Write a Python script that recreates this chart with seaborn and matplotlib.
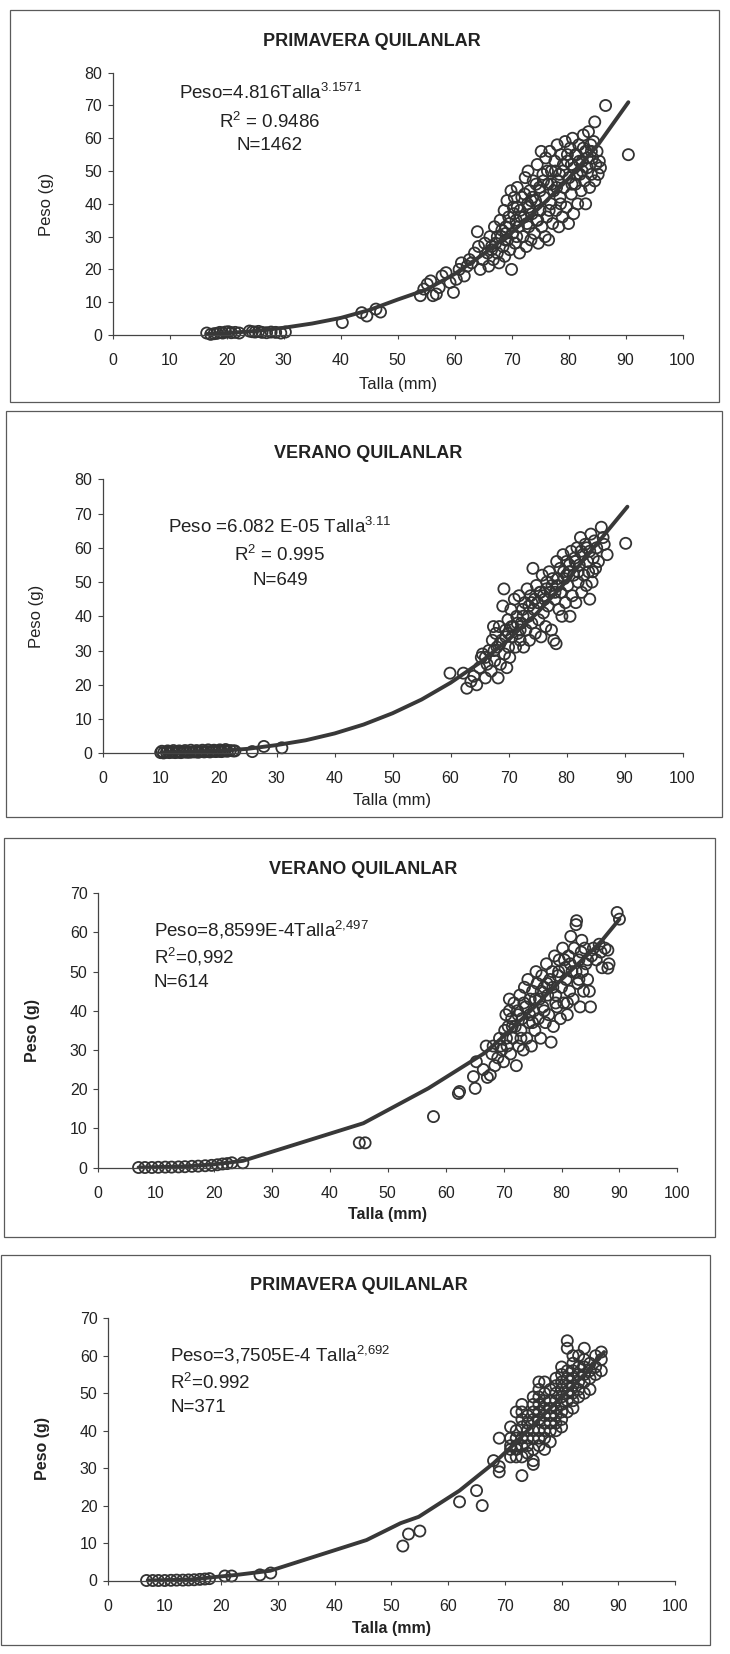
import matplotlib
matplotlib.use("Agg")
import matplotlib.pyplot as plt
import seaborn as sns
from matplotlib.patches import Rectangle

W, H = 730, 1654

# ---------------- panel 1: PRIMAVERA QUILANLAR (N=1462) ----------------
p1_talla = [16.5, 17.2, 17.8, 18.3, 18.8, 19.3, 19.8, 20.3, 20.8, 21.5, 22.2,
            24.0, 24.5, 25.0, 25.6, 26.2, 27.0, 27.8, 28.6, 29.5, 30.3,
            40.3, 43.7, 44.6, 46.2, 47.0,
            54.0, 54.6, 55.2, 55.8, 56.2, 56.8, 57.3, 57.8, 58.5, 59.2, 59.8, 60.3,
            60.8, 61.2, 61.7, 62.2, 62.6,
            63.0, 63.5, 64.0, 64.2, 64.5, 65.0, 65.3, 65.8, 66.0, 66.2, 66.5, 66.8,
            67.0, 67.2, 67.5, 67.8, 68.0, 68.2, 68.5, 68.7, 68.8, 69.0, 69.2, 69.3,
            69.5, 69.7, 69.9,
            70.0, 70.2, 70.3, 70.5, 70.6, 70.8, 71.0, 71.2, 71.4, 71.5, 71.8, 72.0,
            72.2, 72.4, 72.6, 72.8, 72.9, 73.0,
            73.2, 73.4, 73.6, 73.8, 74.0, 74.2, 74.4, 74.5, 74.7, 74.9, 75.0, 75.2,
            75.3, 75.5, 75.7, 75.9, 76.0, 76.2, 76.4, 76.5, 76.7, 76.9, 77.0,
            77.2, 77.4, 77.6, 77.8, 78.0, 78.1, 78.3, 78.5, 78.7, 78.9, 79.0, 79.2,
            79.4, 79.6, 79.8, 80.0, 80.1, 80.3, 80.5, 80.7, 80.9,
            81.0, 81.2, 81.4, 81.6, 81.8, 82.0, 82.2, 82.4, 82.6, 82.8, 83.0, 83.0,
            83.3, 83.5, 83.7, 83.9, 84.0,
            84.2, 84.4, 84.6, 84.8, 85.0, 85.2, 85.4, 85.6, 84.6, 86.5, 90.5,
            66.5, 67.5, 68.3, 69.0, 69.6, 70.4, 71.0, 71.6, 72.3, 73.0, 73.7, 74.3,
            75.0, 75.6, 76.3, 77.0, 77.7, 78.4, 79.1, 79.8, 80.5, 81.2, 81.9, 82.6,
            83.3, 84.0, 70.9, 72.7, 74.6, 76.6, 78.6, 80.6, 82.4, 68.9, 73.4, 77.9,
            81.5]
p1_peso = [0.6, 0.2, 0.4, 0.5, 0.8, 0.6, 0.9, 1.0, 0.7, 0.8, 0.6,
           1.2, 1.0, 0.9, 1.1, 0.8, 0.7, 0.9, 0.8, 0.6, 0.9,
           3.8, 6.8, 5.8, 7.9, 7.0,
           12.0, 14.0, 15.5, 16.5, 12.0, 12.5, 14.5, 18.0, 19.0, 16.0, 13.0, 17.0,
           20.0, 22.0, 18.0, 21.0, 23.0,
           22.0, 25.0, 31.5, 27.0, 20.0, 23.0, 28.0, 25.0, 21.0, 30.0, 26.0, 23.0,
           33.0, 28.0, 25.0, 22.0, 35.0, 30.0, 27.0, 38.0, 24.0, 33.0, 41.0, 29.0,
           36.0, 26.0, 44.0,
           20.0, 31.0, 39.0, 42.0, 28.0, 35.0, 45.0, 33.0, 25.0, 38.0, 42.0, 30.0,
           36.0, 48.0, 27.0, 40.0, 50.0, 33.0,
           44.0, 29.0, 37.0, 47.0, 31.0, 41.0, 35.0, 52.0, 28.0, 45.0, 38.0, 56.0,
           33.0, 49.0, 42.0, 30.0, 54.0, 36.0, 46.0, 29.0, 56.0, 40.0, 50.0,
           34.0, 44.0, 53.0, 38.0, 58.0, 47.0, 33.0, 42.0, 55.0, 36.0, 50.0, 45.0,
           59.0, 39.0, 53.0, 34.0, 48.0, 57.0, 43.0, 60.0, 37.0,
           51.0, 46.0, 55.0, 40.0, 58.0, 49.0, 44.0, 53.0, 61.0, 47.0, 40.0, 56.0,
           51.0, 62.0, 45.0, 58.0, 49.0,
           54.0, 59.0, 47.0, 52.0, 56.0, 49.0, 53.0, 51.0, 65.0, 70.0, 55.0,
           27.0, 30.0, 32.0, 31.0, 34.0, 37.0, 39.0, 36.0, 43.0, 39.0, 42.0, 46.0,
           44.0, 47.0, 50.0, 46.0, 50.0, 49.0, 52.0, 55.0, 52.0, 55.0, 53.0, 57.0,
           54.0, 56.0, 30.0, 34.0, 35.0, 38.0, 40.0, 46.0, 50.0, 29.0, 41.0, 45.0,
           49.0]
p1_curve_x = [16.5, 20, 25, 30, 35, 40, 45, 50, 55, 60, 65, 70, 75, 80, 85, 90.5]
p1_curve_y = [0.3, 0.6, 1.2, 2.2, 3.5, 5.2, 7.6, 10.8, 13.8, 18.6, 24.6, 31.2, 39.0, 47.7, 57.6, 71.0]

# ---------------- panel 2: VERANO QUILANLAR (N=649) ----------------
p2_talla = [10.0, 10.5, 11.0, 11.5, 12.0, 12.5, 13.0, 13.5, 14.0, 14.5, 15.0, 15.5,
            16.0, 16.5, 17.0, 17.5, 18.0, 18.5, 19.0, 19.5, 20.0, 20.5, 21.0, 21.5,
            22.0, 22.5,
            10.2, 11.2, 12.2, 13.2, 14.2, 15.2, 16.2, 17.2, 18.2, 19.2, 20.2, 21.2,
            22.8, 25.8, 27.8, 30.9,
            59.9, 62.2, 62.8, 63.5, 64.0, 64.5, 65.0, 65.3, 65.5, 66.0, 66.3, 66.6,
            67.0, 67.2, 67.4, 67.6, 67.8, 68.0, 68.2, 68.4, 68.6, 68.8, 69.0, 69.2,
            69.3, 69.5, 69.7, 69.9,
            70.0, 70.2, 70.4, 70.6, 70.8, 71.0, 71.2, 71.4, 71.6, 71.8, 72.0, 72.2,
            72.4, 72.6, 72.8, 73.0, 73.2, 73.4, 73.6, 73.8, 74.0, 74.2, 74.4, 74.6,
            74.8, 75.0, 75.2, 75.4, 75.6, 75.8, 76.0, 76.2, 76.4, 76.6, 76.8,
            77.0, 77.2, 77.4, 77.6, 77.8, 78.0, 78.2, 78.3, 78.5, 78.7, 78.9,
            79.0, 79.2, 79.4, 79.6, 79.8, 80.0, 80.2, 80.4, 80.6, 80.8,
            81.0, 81.2, 81.4, 81.6, 81.8, 82.0, 82.2, 82.4, 82.6, 82.8,
            83.0, 83.2, 83.4, 83.6, 83.8, 84.0, 84.0, 84.2, 84.4, 84.6, 84.8,
            85.0, 85.2, 85.5, 86.0, 86.3, 86.5, 87.0, 90.2,
            66.0, 67.5, 68.5, 69.5, 70.5, 71.5, 72.5, 73.5, 74.5, 75.5, 76.5, 77.5,
            78.5, 79.5, 80.5, 81.5, 82.5, 83.5, 70.0, 72.0, 74.0, 76.0, 78.0, 80.0,
            82.0, 84.5]
p2_peso = [0.2, 0.1, 0.3, 0.2, 0.3, 0.2, 0.3, 0.2, 0.4, 0.3, 0.3, 0.4,
           0.4, 0.3, 0.5, 0.4, 0.5, 0.4, 0.6, 0.5, 0.6, 0.5, 0.7, 0.6,
           0.8, 0.7,
           0.6, 0.7, 0.8, 0.7, 0.8, 0.9, 0.8, 0.9, 1.0, 0.9, 1.0, 1.1,
           0.7, 0.5, 2.0, 1.6,
           23.4, 23.4, 19.0, 21.0, 22.5, 20.0, 25.0, 28.0, 29.0, 22.0, 26.0, 30.0,
           24.0, 33.0, 37.0, 27.0, 35.0, 31.0, 22.0, 37.0, 26.0, 33.0, 43.0, 48.0,
           29.0, 36.0, 25.0, 39.0,
           31.0, 28.0, 42.0, 34.0, 37.0, 45.0, 31.0, 40.0, 35.0, 46.0, 33.0, 38.0,
           42.0, 31.0, 44.0, 36.0, 48.0, 40.0, 33.0, 46.0, 38.0, 54.0, 42.0, 35.0,
           49.0, 44.0, 39.0, 47.0, 34.0, 52.0, 41.0, 45.0, 37.0, 50.0, 43.0,
           53.0, 47.0, 36.0, 51.0, 33.0, 45.0, 32.0, 56.0, 49.0, 42.0, 54.0,
           47.0, 40.0, 58.0, 51.0, 44.0, 56.0, 49.0, 53.0, 40.0, 59.0,
           46.0, 52.0, 57.0, 44.0, 60.0, 50.0, 55.0, 63.0, 47.0, 58.0,
           52.0, 61.0, 49.0, 56.0, 53.0, 45.0, 59.0, 64.0, 50.0, 57.0, 62.0,
           54.0, 60.0, 56.0, 66.0, 63.0, 61.0, 58.0, 61.3,
           28.0, 30.0, 32.0, 34.0, 37.0, 38.0, 40.0, 43.0, 45.0, 47.0, 48.0, 49.0,
           51.0, 53.0, 55.0, 56.0, 59.0, 60.0, 35.0, 36.0, 44.0, 46.0, 47.0, 52.0,
           53.0, 53.0]
p2_curve_x = [10, 20, 25, 30, 35, 40, 45, 50, 55, 60, 65, 70, 75, 80, 85, 90.5]
p2_curve_y = [0.1, 0.7, 1.3, 2.4, 3.8, 5.8, 8.4, 11.7, 15.7, 20.6, 26.4, 33.2, 41.1, 50.3, 60.7, 72.0]

# ---------------- panel 3: VERANO QUILANLAR (N=614) ----------------
p3_talla = [7.0, 8.1, 9.3, 10.4, 11.6, 12.7, 13.9, 15.0, 16.2, 17.3, 18.5, 19.6,
            20.6, 21.5, 22.3, 23.1, 25.0,
            45.1, 46.1, 57.9, 62.2, 62.4,
            64.8, 65.1, 65.3, 66.5, 67.0, 67.2, 67.7, 68.0, 68.2, 68.5, 69.0, 69.3,
            69.7, 70.0, 70.2, 70.4, 70.6, 70.8, 71.0, 71.2, 71.4, 71.6, 71.8,
            72.0, 72.2, 72.4, 72.6, 72.8, 73.0, 73.2, 73.4, 73.6, 73.8,
            74.0, 74.2, 74.4, 74.6, 74.8, 75.0, 75.2, 75.4, 75.6, 75.8,
            76.0, 76.2, 76.4, 76.6, 76.8, 77.0, 77.2, 77.4, 77.6, 77.8,
            78.0, 78.2, 78.4, 78.6, 78.8, 79.0, 79.2, 79.4, 79.6, 79.8,
            80.0, 80.2, 80.4, 80.6, 80.8, 81.0, 81.2, 81.4, 81.6, 81.8,
            82.0, 82.2, 82.5, 82.6, 82.8, 83.0, 83.2, 83.4, 83.6, 83.8,
            84.0, 84.2, 84.5, 84.8, 85.0, 85.2, 85.5, 86.0, 86.5, 86.8,
            87.0, 87.5, 88.0, 88.0, 88.2, 89.6, 90.0,
            69.5, 70.5, 71.5, 72.5, 73.5, 74.5, 75.5, 76.5, 77.5, 78.5, 79.5, 80.5,
            81.5, 82.5, 83.5, 84.5, 71.0, 73.0, 75.0, 77.0, 79.0, 81.0, 83.0]
p3_peso = [0.0, 0.0, 0.0, 0.05, 0.1, 0.1, 0.15, 0.2, 0.3, 0.35, 0.45, 0.55,
           0.7, 0.9, 1.0, 1.2, 1.2,
           6.3, 6.3, 13.0, 18.9, 19.4,
           23.2, 20.2, 27.0, 25.0, 31.0, 23.0, 23.6, 29.0, 31.0, 26.0, 28.0, 33.0,
           30.0, 27.0, 35.0, 39.0, 31.0, 36.0, 43.0, 29.0, 38.0, 33.0, 42.0,
           36.0, 26.0, 40.0, 31.0, 44.0, 35.0, 38.0, 30.0, 46.0, 41.0,
           33.0, 48.0, 37.0, 43.0, 31.0, 45.0, 40.0, 35.0, 50.0, 47.0,
           38.0, 43.0, 33.0, 49.0, 41.0, 46.0, 37.0, 52.0, 44.0, 39.0,
           48.0, 32.0, 50.0, 36.0, 54.0, 44.0, 41.0, 49.0, 53.0, 38.0,
           46.0, 56.0, 42.0, 51.0, 48.0, 39.0, 54.0, 45.0, 59.0, 50.0,
           43.0, 56.0, 62.0, 63.0, 47.0, 53.0, 41.0, 55.0, 50.0, 45.0,
           56.0, 52.0, 48.0, 45.0, 41.0, 54.0, 56.0, 53.0, 57.0, 55.0,
           51.0, 56.0, 55.5, 50.9, 52.0, 65.1, 63.4,
           31.0, 33.0, 36.0, 39.0, 42.0, 39.0, 43.0, 45.0, 47.0, 46.0, 50.0, 53.0,
           52.0, 50.0, 58.0, 53.0, 40.0, 33.0, 37.0, 40.0, 42.0, 42.0, 48.0]
p3_line_x = [7, 10, 15, 20, 25, 45.8, 57, 66.7, 70, 75, 80, 85, 87, 90]
p3_line_y = [0.0, 0.1, 0.3, 0.8, 1.7, 11.3, 20.2, 29.2, 33.5, 40.5, 48.0, 55.0, 58.0, 63.4]

# ---------------- panel 4: PRIMAVERA QUILANLAR (N=371) ----------------
p4_talla = [6.8, 7.9, 8.9, 10.0, 11.1, 12.1, 13.2, 14.2, 15.2, 16.2, 17.1, 17.9,
            20.6, 21.8, 26.8, 28.7,
            52, 53, 55, 62, 65, 66, 68, 69, 69, 69,
            71, 71, 71, 71, 71,
            72, 72, 72, 72, 72, 72,
            73, 73, 73, 73, 73, 73, 73, 73,
            74, 74, 74, 74, 74, 74,
            75, 75, 75, 75, 75, 75, 75, 75, 75,
            76, 76, 76, 76, 76, 76, 76, 76, 76,
            77, 77, 77, 77, 77, 77, 77, 77, 77,
            78, 78, 78, 78, 78, 78, 78,
            79, 79, 79, 79, 79, 79, 79, 79,
            80, 80, 80, 80, 80, 80, 80, 80, 80,
            81, 81, 81, 81, 81, 81, 81, 81,
            82, 82, 82, 82, 82, 82, 82, 82,
            83, 83, 83, 83, 83, 83,
            84, 84, 84, 84, 84, 84,
            85, 85, 85, 85,
            86, 86, 86,
            87, 87, 87]
p4_peso = [0.0, 0.0, 0.0, 0.0, 0.05, 0.1, 0.1, 0.15, 0.2, 0.3, 0.4, 0.5,
           1.2, 1.2, 1.5, 2.0,
           9.2, 12.4, 13.2, 21.0, 24.0, 20.0, 32.0, 30.4, 29.0, 38.0,
           33, 35, 36, 38, 41,
           33, 35, 36, 38, 40, 45,
           28, 33, 36, 38, 41, 43, 45, 47,
           34, 36, 38, 40, 42, 44,
           31, 32, 35, 38, 40, 43, 45, 47, 49,
           36, 38, 40, 43, 45, 47, 49, 51, 53,
           35, 38, 40, 42, 44, 46, 48, 50, 53,
           37, 40, 42, 44, 46, 48, 51,
           40, 42, 44, 46, 48, 50, 52, 54,
           41, 43, 45, 47, 49, 51, 53, 55, 57,
           45, 48, 50, 52, 54, 56, 62, 64,
           46, 48, 50, 52, 54, 56, 58, 60,
           49, 51, 53, 55, 57, 60,
           50, 53, 55, 57, 59, 62,
           51, 54, 56, 58,
           55, 57, 60,
           56, 59, 61]
p4_line_x = [7, 15, 18, 22.7, 28.6, 45.6, 51.6, 54.8, 62, 68, 71, 75, 80, 84, 87.5]
p4_line_y = [0.0, 0.3, 0.8, 1.5, 2.6, 10.8, 15.3, 17.0, 24.0, 31.3, 35.5, 41.5, 49.0, 55.0, 61.0]

titles = ["PRIMAVERA QUILANLAR", "VERANO QUILANLAR", "VERANO QUILANLAR", "PRIMAVERA QUILANLAR"]
equations = [
    ["Peso=4.816Talla$^{3.1571}$", "R$^{2}$ = 0.9486", "N=1462"],
    ["Peso =6.082 E-05 Talla$^{3.11}$", "R$^{2}$ = 0.995", "N=649"],
    ["Peso=8,8599E-4Talla$^{2{,}497}$", "R$^{2}$=0,992", "N=614"],
    ["Peso=3,7505E-4 Talla$^{2{,}692}$", "R$^{2}$=0.992", "N=371"],
]

sns.set_theme(style="ticks")
plt.rcParams["font.family"] = ["Liberation Sans", "DejaVu Sans"]
plt.rcParams["mathtext.fontset"] = "custom"
plt.rcParams["mathtext.rm"] = "Liberation Sans"
plt.rcParams["mathtext.it"] = "Liberation Sans:italic"
plt.rcParams["mathtext.bf"] = "Liberation Sans:bold"
plt.rcParams["mathtext.default"] = "regular"

INK = "#222222"
EDGE = "#333333"
LINE = "#383838"

# pixel layout of each panel: axes (left, top, right, bottom), frame, text anchors
layout = [
    dict(ax=(112.7, 72.7, 682.5, 335.0), ymax=80, frame=(10, 10, 719, 402),
         title=(372, 42), eq=(270, [93, 122, 145], "center"),
         xl=(397.6, 385), yl=(46.5, 204), bold=False),
    dict(ax=(102.7, 479.3, 682.5, 753.3), ymax=80, frame=(6, 411, 722, 817),
         title=(368, 453), eq=(280, [527, 555, 580], "center"),
         xl=(392, 800), yl=(37, 616), bold=False),
    dict(ax=(98.0, 893.3, 677.4, 1167.5), ymax=70, frame=(4, 838, 715, 1237),
         title=(363, 870), eq=(153.6, [930, 957, 982], "left"),
         xl=(387.7, 1215), yl=(32.6, 1030), bold=True),
    dict(ax=(108.0, 1318.3, 675.0, 1580.5), ymax=70, frame=(1, 1255, 710, 1645),
         title=(358.5, 1285), eq=(170, [1355, 1383, 1407], "left"),
         xl=(391.5, 1628), yl=(42, 1449), bold=True),
]

points = [(p1_talla, p1_peso), (p2_talla, p2_peso), (p3_talla, p3_peso), (p4_talla, p4_peso)]
lines = [(p1_curve_x, p1_curve_y), (p2_curve_x, p2_curve_y),
         (p3_line_x, p3_line_y), (p4_line_x, p4_line_y)]

fig = plt.figure(figsize=(W / 100, H / 100), dpi=100)
fig.patch.set_facecolor("white")


def fx(x):
    return x / W


def fy(y):
    return 1 - y / H


for i, lay in enumerate(layout):
    l, t, r, b = lay["ax"]
    ax = fig.add_axes([fx(l), fy(b), (r - l) / W, (b - t) / H])
    ax.set_facecolor("none")

    tx, py = points[i]
    sns.scatterplot(x=tx, y=py, ax=ax, marker="o", s=64, facecolor="none",
                    edgecolor=EDGE, linewidth=1.3, clip_on=False, zorder=2)
    lx, ly = lines[i]
    sns.lineplot(x=lx, y=ly, ax=ax, color=LINE, linewidth=2.8, sort=False,
                 estimator=None, zorder=3)

    ax.set_xlim(0, 100)
    ax.set_ylim(0, lay["ymax"])
    ax.set_xticks(range(0, 101, 10))
    ax.set_yticks(range(0, lay["ymax"] + 1, 10))
    ax.set_xlabel("")
    ax.set_ylabel("")
    sns.despine(ax=ax)
    for side in ["left", "bottom"]:
        ax.spines[side].set_color("#444444")
        ax.spines[side].set_linewidth(0.9)
    ax.tick_params(axis="x", direction="out", length=3, width=0.8, pad=10,
                   labelsize=11.5, colors="#444444", labelcolor=INK)
    ax.tick_params(axis="y", direction="out", length=3.5, width=0.8, pad=4,
                   labelsize=11.5, colors="#444444", labelcolor=INK)

    # frame around each chart
    x0, y0, x1, y1 = lay["frame"]
    fig.add_artist(Rectangle((fx(x0), fy(y1)), (x1 - x0) / W, (y1 - y0) / H,
                             transform=fig.transFigure, fill=False,
                             edgecolor="#5a5a5a", linewidth=0.9))

    fig.text(fx(lay["title"][0]), fy(lay["title"][1]), titles[i], ha="center",
             va="center", fontsize=13, fontweight="bold", color=INK)

    ex, eys, ha = lay["eq"]
    for txt, ey in zip(equations[i], eys):
        fig.text(fx(ex), fy(ey), txt, ha=ha, va="center", fontsize=13.5, color=INK)

    weight = "bold" if lay["bold"] else "normal"
    size = 11.5 if lay["bold"] else 12
    fig.text(fx(lay["xl"][0]), fy(lay["xl"][1]), "Talla (mm)", ha="center",
             va="center", fontsize=size, fontweight=weight, color=INK)
    fig.text(fx(lay["yl"][0]), fy(lay["yl"][1]), "Peso (g)", ha="center",
             va="center", rotation=90, fontsize=size, fontweight=weight, color=INK)

fig.savefig("out.png", dpi=100)
